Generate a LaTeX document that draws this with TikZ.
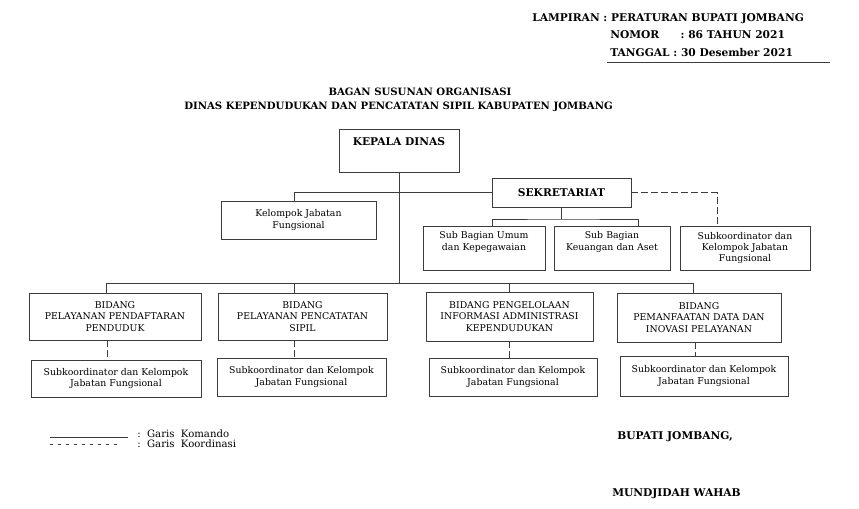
\documentclass[tikz,border=0pt]{standalone}
\usepackage{fontspec}
\setmainfont{DejaVu Serif}
\usetikzlibrary{calc}
\definecolor{linegray}{RGB}{60,60,60}
\newcommand{\boxfont}{\fontsize{7}{8.5}\selectfont}
\newcommand{\headfont}{\bfseries\fontsize{8}{10}\selectfont}
\newcommand{\titlefont}{\bfseries\fontsize{7.6}{10}\selectfont}

\begin{document}
\begin{tikzpicture}[x=0.75pt, y=-0.75pt,
    box/.style={draw=linegray, line width=0.7pt, inner sep=0pt, align=center, font=\boxfont},
    head/.style={font=\headfont, inner sep=0pt},
    txt/.style={font=\fontsize{7.6}{9}\selectfont, inner sep=0pt, anchor=base west},
    line/.style={draw=linegray, line width=0.7pt},
    koord/.style={line, dash pattern=on 5pt off 2.5pt}
  ]
  \path[fill=white] (0,0) rectangle (859,509);

  \node[head, anchor=base west] (lampiran) at (532,22) {LAMPIRAN : PERATURAN BUPATI JOMBANG};
  \node[head, anchor=base west] (nomor) at (610,39) {NOMOR\hspace{16pt}: 86 TAHUN 2021};
  \node[head, anchor=base west] (tanggal) at (610,57) {TANGGAL : 30 Desember 2021};
  \draw[line] (607,62) -- (830,62);

  \node[head, font=\titlefont] (judul) at (420,92) {BAGAN SUSUNAN ORGANISASI};
  \node[head, font=\titlefont] (dinas) at (398.5,107) {DINAS KEPENDUDUKAN DAN PENCATATAN SIPIL KABUPATEN JOMBANG};

  \node[box, font=\headfont, minimum width=90pt, text height=12.75pt, text depth=19.5pt] (kadis) at (399,150.5) {KEPALA DINAS};
  \node[box, font=\headfont, minimum width=104.25pt, minimum height=21.75pt] (sekre) at (561.5,192.5) {SEKRETARIAT};
  \node[box, minimum width=116.25pt, minimum height=28.5pt] (kjf) at (298.5,220) {Kelompok Jabatan\\Fungsional};
  \node[box, text width=91.5pt, text height=9.75pt, text depth=23.25pt] (sbu) at (484,248) {Sub Bagian Umum\\dan Kepegawaian};
  \node[box, text width=87pt, text height=9.75pt, text depth=23.25pt] (sbk) at (612,248) {Sub Bagian\\Keuangan dan Aset};
  \node[box, minimum width=97.5pt, minimum height=33pt] (skj) at (745,248) {Subkoordinator dan\\Kelompok Jabatan\\Fungsional};

  \node[box, minimum width=129pt, minimum height=35.25pt] (bid1) at (115,316.5) {BIDANG\\PELAYANAN PENDAFTARAN\\PENDUDUK};
  \node[box, minimum width=126.75pt, minimum height=35.25pt] (bid2) at (302.5,316.5) {BIDANG\\PELAYANAN PENCATATAN\\SIPIL};
  \node[box, minimum width=125.25pt, minimum height=36.75pt] (bid3) at (509.5,316.5) {BIDANG PENGELOLAAN\\INFORMASI ADMINISTRASI\\KEPENDUDUKAN};
  \node[box, minimum width=123pt, minimum height=36.75pt] (bid4) at (699,317.5) {BIDANG\\PEMANFAATAN DATA DAN\\INOVASI PELAYANAN};

  \node[box, minimum width=127.5pt, minimum height=27.75pt] (sub1) at (116,378.5) {Subkoordinator dan Kelompok\\Jabatan Fungsional};
  \node[box, minimum width=126.75pt, minimum height=28.5pt] (sub2) at (301.5,377) {Subkoordinator dan Kelompok\\Jabatan Fungsional};
  \node[box, minimum width=126pt, minimum height=28.5pt] (sub3) at (513,377) {Subkoordinator dan Kelompok\\Jabatan Fungsional};
  \node[box, minimum width=126pt, minimum height=30pt] (sub4) at (704,376) {Subkoordinator dan Kelompok\\Jabatan Fungsional};

  \coordinate (bus) at (399,283);
  \coordinate (sekbus) at (561.5,219);
  \draw[line] (kadis.south) -- (bus);
  \draw[line] (sekre.west) -| ($(kjf.north)+(-4.5,0)$);
  \draw[line] (sekre.south) -- (sekbus);
  \draw[line] ($(sbu.north)+(8,0)$) |- (sekbus) -| ($(sbk.north)+(26,0)$);
  \draw[koord] (sekre.east) -| ($(skj.north)+(-28,0)$);
  \foreach \b/\dx in {bid1/-9, bid2/-8.5, bid3/0, bid4/-6}
    \draw[line] (bus) -| ($(\b.north)+(\dx,0)$);
  \foreach \b/\s/\dx in {bid1/sub1/-8, bid2/sub2/-8.5, bid3/sub3/-0.5, bid4/sub4/-4}
    \draw[koord] ($(\b.south)+(\dx,0)$) coordinate (t) -- (t |- \s.north);

  \draw[line] (50,437) -- (128,437);
  \node[txt] (komando) at (137,437) {:\ \ Garis\ \ Komando};
  \draw[line, dash pattern=on 2.5pt off 3.5pt] (50,444) -- (120,444);
  \node[txt] (koordinasi) at (137,447) {:\ \ Garis\ \ Koordinasi};

  \node[head, anchor=base west] (bupati) at (617,439) {BUPATI JOMBANG,};
  \node[head, anchor=base west] (nama) at (612,496) {MUNDJIDAH WAHAB};
\end{tikzpicture}
\end{document}
